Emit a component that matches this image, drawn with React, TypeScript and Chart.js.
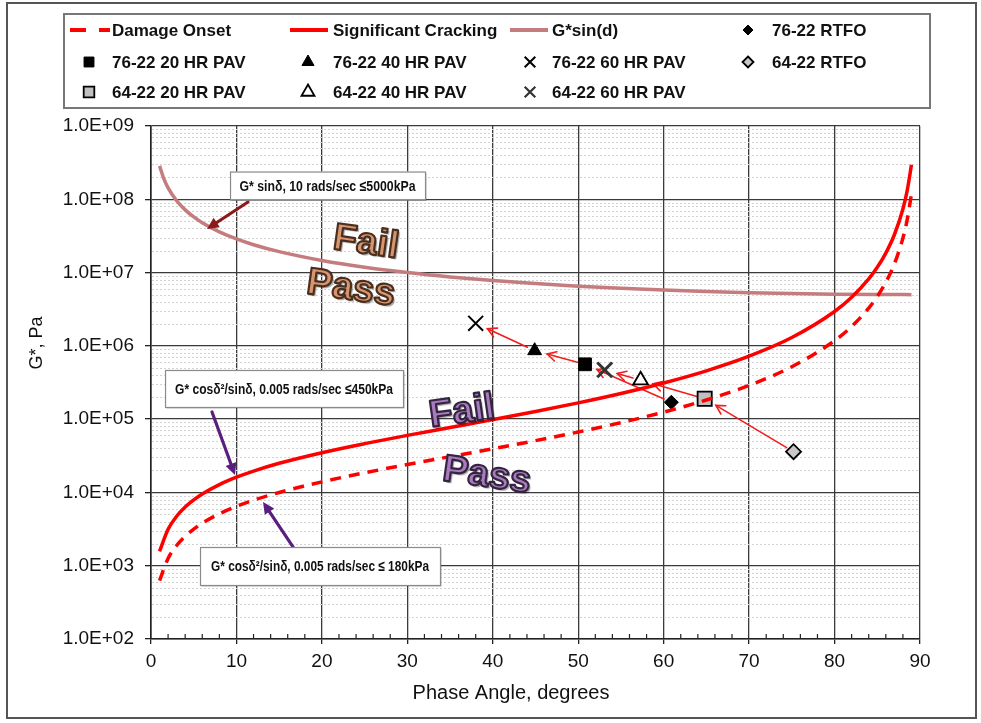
import React, { useEffect, useRef } from "react";
import { Chart, registerables } from "chart.js";

Chart.register(...registerables);

// ---------- data ----------
const curveAngles = [1, 2, 3, 4, 5, 6, 8, 10, 12, 15, 20, 25, 30, 35, 40, 45, 50, 55, 60, 65, 70, 75, 80, 82, 84, 85, 86, 87, 88, 88.5, 89];
const damageOnset = [628, 1258, 1889, 2523, 3162, 3805, 5109, 6446, 7823, 9986, 13944, 18522, 24000, 30773, 39433, 50912, 66745, 89636, 124708, 182676, 289186, 519104, 1175746, 1840536, 3276720, 4721040, 7380000, 13125600, 29538000, 52500000, 118152000];
const significantCracking = [1571, 3145, 4723, 6309, 7904, 9511, 12773, 16114, 19557, 24966, 34860, 46306, 60000, 76932, 98583, 127279, 166863, 224091, 311769, 456690, 722965, 1297761, 2939364, 4601340, 8191800, 11802600, 18450000, 32814000, 73845000, 131300000, 295380000];

const gSinAngles = [1, 1.5, 2, 3, 4, 5, 6, 8, 10, 12, 15, 20, 25, 30, 35, 40, 45, 50, 55, 60, 65, 70, 75, 80, 85, 89];
const gStarSin = [2.86e8, 1.91e8, 1.43e8, 9.55e7, 7.17e7, 5.74e7, 4.78e7, 3.59e7, 2.88e7, 2.4e7, 1.93e7, 1.46e7, 1.18e7, 1.0e7, 8.72e6, 7.78e6, 7.07e6, 6.53e6, 6.1e6, 5.77e6, 5.52e6, 5.32e6, 5.18e6, 5.08e6, 5.02e6, 5.0e6];

const sampleNames = ["76-22 RTFO", "76-22 20 HR PAV", "76-22 40 HR PAV", "76-22 60 HR PAV", "64-22 RTFO", "64-22 20 HR PAV", "64-22 40 HR PAV", "64-22 60 HR PAV"];
const sampleAngles = [60.9, 50.8, 44.9, 38.0, 75.2, 64.8, 57.3, 53.1];
const sampleGStar = [1.7e5, 5.6e5, 8.6e5, 2.03e6, 3.6e4, 1.9e5, 3.4e5, 4.7e5];

// aging paths (from index -> to index)
const agingFrom = [0, 1, 2, 4, 5, 6];
const agingTo = [1, 2, 3, 5, 6, 7];

const xTickMin = 0;
const xTickMax = 90;
const xTickStep = 10;
const xMinorStep = 2;
const yDecades = [2, 3, 4, 5, 6, 7, 8, 9];

const calloutTexts = [
  "G* sinδ, 10 rads/sec ≤5000kPa",
  "G* cosδ²/sinδ, 0.005 rads/sec ≤450kPa",
  "G* cosδ²/sinδ, 0.005 rads/sec ≤ 180kPa",
];
const zoneWords = ["Fail", "Pass", "Fail", "Pass"];

// ---------- styling / placement ----------
const FONT = "'Liberation Sans', Arial, sans-serif";

const callouts = [
  { at: [20.66, 1.54e8], w: 195, h: 28, tw: 176, from: [11.35, 10 ** 7.963], to: [6.55, 10 ** 7.595], color: "#8B1A1A" },
  { at: [15.57, 2.62e5], w: 238, h: 37, tw: 218, from: [7.14, 10 ** 5.098], to: [9.83, 10 ** 4.238], color: "#5A1F7E" },
  { at: [19.78, 991], w: 240, h: 38, tw: 218, from: [16.62, 10 ** 3.256], to: [13.11, 10 ** 3.87], color: "#5A1F7E" },
];

const zonePlace = [
  { at: [25.16, 10 ** 7.404], rot: 8, fill: "#D9956F", stroke: "#4A2E1E" },
  { at: [23.4, 10 ** 6.776], rot: 8, fill: "#D9956F", stroke: "#4A2E1E" },
  { at: [36.4, 10 ** 5.098], rot: -8, fill: "#A77BBE", stroke: "#35243F" },
  { at: [39.3, 10 ** 4.224], rot: 8, fill: "#A77BBE", stroke: "#35243F" },
];

type MarkerStyle = { shape: string; r: number; lr: number; fill: string; stroke: string; lw: number };
const markerStyles: MarkerStyle[] = [
  { shape: "rectRot", r: 7, lr: 5, fill: "#000", stroke: "#000", lw: 1 },
  { shape: "rect", r: 9, lr: 7, fill: "#000", stroke: "#000", lw: 1 },
  { shape: "triangle", r: 8, lr: 7, fill: "#000", stroke: "#000", lw: 1 },
  { shape: "crossRot", r: 10.5, lr: 7.5, fill: "#000", stroke: "#000", lw: 2 },
  { shape: "rectRot", r: 7.5, lr: 5.5, fill: "#C8C8C8", stroke: "#000", lw: 1.8 },
  { shape: "rect", r: 10, lr: 7.5, fill: "#C0C0C0", stroke: "#000", lw: 1.8 },
  { shape: "triangle", r: 8.5, lr: 7.5, fill: "#FFFFFF", stroke: "#000", lw: 1.8 },
  { shape: "crossRot", r: 10.5, lr: 7.5, fill: "#333", stroke: "#333", lw: 3 },
];

function drawMarker(ctx: CanvasRenderingContext2D, m: MarkerStyle, x: number, y: number, r: number) {
  ctx.save();
  ctx.lineWidth = m.lw;
  ctx.strokeStyle = m.stroke;
  ctx.fillStyle = m.fill;
  ctx.beginPath();
  if (m.shape === "rect") {
    const s = r * Math.SQRT1_2;
    ctx.rect(x - s, y - s, 2 * s, 2 * s);
    ctx.fill();
    ctx.stroke();
  } else if (m.shape === "rectRot") {
    ctx.moveTo(x, y - r);
    ctx.lineTo(x + r, y);
    ctx.lineTo(x, y + r);
    ctx.lineTo(x - r, y);
    ctx.closePath();
    ctx.fill();
    ctx.stroke();
  } else if (m.shape === "triangle") {
    for (let i = 0; i < 3; i++) {
      const a = (i * 2 * Math.PI) / 3;
      const px = x + Math.sin(a) * r;
      const py = y - Math.cos(a) * r;
      if (i === 0) ctx.moveTo(px, py);
      else ctx.lineTo(px, py);
    }
    ctx.closePath();
    ctx.fill();
    ctx.stroke();
  } else if (m.shape === "crossRot") {
    const s = r * Math.SQRT1_2;
    ctx.moveTo(x - s, y - s);
    ctx.lineTo(x + s, y + s);
    ctx.moveTo(x + s, y - s);
    ctx.lineTo(x - s, y + s);
    ctx.stroke();
  }
  ctx.restore();
}

function arrowLine(ctx: CanvasRenderingContext2D, x1: number, y1: number, x2: number, y2: number, color: string, lw: number, head: number, filled: boolean) {
  const a = Math.atan2(y2 - y1, x2 - x1);
  ctx.save();
  ctx.strokeStyle = color;
  ctx.fillStyle = color;
  ctx.lineWidth = lw;
  ctx.lineCap = "round";
  ctx.beginPath();
  const ex = filled ? x2 - Math.cos(a) * head * 0.7 : x2;
  const ey = filled ? y2 - Math.sin(a) * head * 0.7 : y2;
  ctx.moveTo(x1, y1);
  ctx.lineTo(ex, ey);
  ctx.stroke();
  const spread = filled ? 0.45 : 0.5;
  const hx1 = x2 - Math.cos(a - spread) * head;
  const hy1 = y2 - Math.sin(a - spread) * head;
  const hx2 = x2 - Math.cos(a + spread) * head;
  const hy2 = y2 - Math.sin(a + spread) * head;
  ctx.beginPath();
  if (filled) {
    ctx.moveTo(x2, y2);
    ctx.lineTo(hx1, hy1);
    ctx.lineTo(hx2, hy2);
    ctx.closePath();
    ctx.fill();
  } else {
    ctx.moveTo(hx1, hy1);
    ctx.lineTo(x2, y2);
    ctx.lineTo(hx2, hy2);
    ctx.stroke();
  }
  ctx.restore();
}

const legendCols = { text: [112, 333, 552, 772], marker: [89, 308, 530, 748], line: [[70, 110], [290, 328], [510, 548]] };
const legendRows = [30, 62, 92];

const decorPlugin = {
  id: "decor",
  beforeDraw(chart: any) {
    const ctx = chart.ctx as CanvasRenderingContext2D;
    ctx.save();
    ctx.fillStyle = "#fff";
    ctx.fillRect(0, 0, chart.width, chart.height);
    ctx.restore();
  },
  beforeDatasetsDraw(chart: any) {
    const ctx = chart.ctx as CanvasRenderingContext2D;
    const xs = chart.scales.x;
    const ys = chart.scales.y;
    const area = chart.chartArea;
    ctx.save();
    // minor horizontal dotted lines
    ctx.strokeStyle = "#D2D2D2";
    ctx.lineWidth = 1;
    ctx.setLineDash([2, 2]);
    for (let e = 2; e < 9; e++) {
      for (let k = 2; k <= 9; k++) {
        const y = Math.round(ys.getPixelForValue(k * 10 ** e)) + 0.5;
        ctx.beginPath();
        ctx.moveTo(area.left + 1, y);
        ctx.lineTo(area.right - 1, y);
        ctx.stroke();
      }
    }
    ctx.setLineDash([]);
    // minor x ticks
    ctx.strokeStyle = "#222";
    ctx.lineWidth = 1.2;
    for (let v = xTickMin; v <= xTickMax; v += xMinorStep) {
      if (v % xTickStep === 0) continue;
      const x = xs.getPixelForValue(v);
      ctx.beginPath();
      ctx.moveTo(x, area.bottom);
      ctx.lineTo(x, area.bottom - 5);
      ctx.stroke();
    }
    ctx.restore();
    // aging arrows
    for (let i = 0; i < agingFrom.length; i++) {
      const a = agingFrom[i];
      const b = agingTo[i];
      const x1 = xs.getPixelForValue(sampleAngles[a]);
      const y1 = ys.getPixelForValue(sampleGStar[a]);
      const x2 = xs.getPixelForValue(sampleAngles[b]);
      const y2 = ys.getPixelForValue(sampleGStar[b]);
      const d = Math.hypot(x2 - x1, y2 - y1);
      const ux = (x2 - x1) / d;
      const uy = (y2 - y1) / d;
      arrowLine(ctx, x1 + ux * 8, y1 + uy * 8, x2 - ux * 13, y2 - uy * 13, "#F01E1E", 1.6, 10, false);
    }
  },
  afterDatasetsDraw(chart: any) {
    const ctx = chart.ctx as CanvasRenderingContext2D;
    const xs = chart.scales.x;
    const ys = chart.scales.y;
    // zone words
    zonePlace.forEach((z, i) => {
      const x = xs.getPixelForValue(z.at[0]);
      const y = ys.getPixelForValue(z.at[1]);
      ctx.save();
      ctx.translate(x, y);
      ctx.rotate((z.rot * Math.PI) / 180);
      ctx.font = `bold 38px ${FONT}`;
      ctx.textAlign = "center";
      ctx.textBaseline = "middle";
      ctx.shadowColor = "rgba(0,0,0,0.35)";
      ctx.shadowOffsetX = 2;
      ctx.shadowOffsetY = 2;
      ctx.shadowBlur = 1;
      ctx.fillStyle = z.fill;
      ctx.fillText(zoneWords[i], 0, 0);
      ctx.shadowColor = "transparent";
      ctx.lineWidth = 2.2;
      ctx.lineJoin = "round";
      ctx.strokeStyle = z.stroke;
      ctx.strokeText(zoneWords[i], 0, 0);
      ctx.restore();
    });
    // callouts
    callouts.forEach((c, i) => {
      const cx = xs.getPixelForValue(c.at[0]);
      const cy = ys.getPixelForValue(c.at[1]);
      arrowLine(ctx, xs.getPixelForValue(c.from[0]), ys.getPixelForValue(c.from[1]), xs.getPixelForValue(c.to[0]), ys.getPixelForValue(c.to[1]), c.color, 3.2, 13, true);
      ctx.save();
      ctx.shadowColor = "rgba(0,0,0,0.25)";
      ctx.shadowOffsetX = 1.5;
      ctx.shadowOffsetY = 1.5;
      ctx.fillStyle = "#fff";
      ctx.fillRect(cx - c.w / 2, cy - c.h / 2, c.w, c.h);
      ctx.shadowColor = "transparent";
      ctx.strokeStyle = "#8A8A8A";
      ctx.lineWidth = 1.2;
      ctx.strokeRect(cx - c.w / 2 + 0.5, cy - c.h / 2 + 0.5, c.w, c.h);
      ctx.font = `bold 15px ${FONT}`;
      ctx.textAlign = "center";
      ctx.textBaseline = "middle";
      ctx.fillStyle = "#111";
      const mw = ctx.measureText(calloutTexts[i]).width;
      ctx.translate(cx, cy + 1);
      ctx.scale(c.tw / mw, 1);
      ctx.fillText(calloutTexts[i], 0, 0);
      ctx.restore();
    });
  },
  afterDraw(chart: any) {
    const ctx = chart.ctx as CanvasRenderingContext2D;
    const ds = chart.data.datasets;
    ctx.save();
    // legend box
    ctx.strokeStyle = "#777";
    ctx.lineWidth = 2;
    ctx.strokeRect(64, 14, 866, 94);
    ctx.font = `bold 17px ${FONT}`;
    ctx.textBaseline = "middle";
    ctx.textAlign = "left";
    ctx.fillStyle = "#111";
    ds.forEach((d: any, i: number) => {
      const row = Math.floor(i / 4);
      const col = i % 4;
      const y = legendRows[row];
      if (i < 3) {
        const [a, b] = legendCols.line[col];
        ctx.save();
        ctx.strokeStyle = d.borderColor;
        ctx.lineWidth = 4;
        if (d.borderDash && d.borderDash.length) ctx.setLineDash([16, 13]);
        ctx.beginPath();
        ctx.moveTo(a, y);
        ctx.lineTo(b, y);
        ctx.stroke();
        ctx.restore();
      } else {
        const m = markerStyles[i - 3];
        drawMarker(ctx, { ...m, lw: Math.min(m.lw, 2.2) }, legendCols.marker[col], y, m.lr);
      }
      ctx.fillStyle = "#111";
      ctx.fillText(d.label, legendCols.text[col], y + 1);
    });
    // axis titles
    ctx.font = `20px ${FONT}`;
    ctx.textAlign = "center";
    ctx.fillStyle = "#111";
    ctx.fillText("Phase Angle, degrees", 511, 693);
    ctx.save();
    ctx.translate(37, 343);
    ctx.rotate(-Math.PI / 2);
    ctx.font = `18px ${FONT}`;
    ctx.fillText("G*, Pa", 0, 0);
    ctx.restore();
    // outer frame
    ctx.strokeStyle = "#555";
    ctx.lineWidth = 2;
    ctx.strokeRect(7, 3, 969, 715);
    ctx.restore();
  },
};

function fmtExp(v: number) {
  const e = Math.round(Math.log10(v));
  return "1.0E+" + String(e).padStart(2, "0");
}

export default function App() {
  const ref = useRef<HTMLCanvasElement>(null);
  useEffect(() => {
    if (!ref.current) return;
    const lineSets = [
      { label: "Damage Onset", xs: curveAngles, ys: damageOnset, color: "#FF0000", dash: [11, 8], width: 3.5 },
      { label: "Significant Cracking", xs: curveAngles, ys: significantCracking, color: "#FF0000", dash: [], width: 3.5 },
      { label: "G*sin(d)", xs: gSinAngles, ys: gStarSin, color: "#C47C7E", dash: [], width: 3.5 },
    ];
    const datasets: any[] = lineSets.map((s) => ({
      label: s.label,
      data: s.xs.map((x, i) => ({ x, y: s.ys[i] })),
      showLine: true,
      borderColor: s.color,
      backgroundColor: s.color,
      borderWidth: s.width,
      borderDash: s.dash,
      pointRadius: 0,
      cubicInterpolationMode: "monotone",
      fill: false,
    }));
    sampleNames.forEach((name, i) => {
      const m = markerStyles[i];
      datasets.push({
        label: name,
        data: [{ x: sampleAngles[i], y: sampleGStar[i] }],
        showLine: false,
        pointStyle: m.shape,
        pointRadius: m.r,
        pointBackgroundColor: m.fill,
        pointBorderColor: m.stroke,
        pointBorderWidth: m.lw,
        backgroundColor: m.fill,
        borderColor: m.stroke,
      });
    });
    const chart = new Chart(ref.current, {
      type: "scatter",
      data: { datasets },
      options: {
        animation: false,
        responsive: false,
        devicePixelRatio: 1,
        layout: { padding: { top: 126, right: 61, bottom: 0, left: 0 } },
        plugins: { legend: { display: false }, tooltip: { enabled: false } },
        scales: {
          x: {
            type: "linear",
            min: xTickMin,
            max: xTickMax,
            afterFit: (s: any) => {
              s.height = 84;
            },
            ticks: { stepSize: xTickStep, color: "#111", font: { family: FONT, size: 19 }, padding: 6 },
            grid: { color: "#3A3A3A", lineWidth: 1.3, tickLength: 5, tickColor: "#222" },
            border: { color: "#222", width: 1.6 },
          },
          y: {
            type: "logarithmic",
            min: 100,
            max: 1e9,
            afterFit: (s: any) => {
              s.width = 151;
            },
            afterBuildTicks: (s: any) => {
              s.ticks = yDecades.map((e) => ({ value: 10 ** e }));
            },
            ticks: {
              color: "#111",
              font: { family: FONT, size: 19 },
              padding: 11,
              callback: (v: any) => fmtExp(Number(v)),
            },
            grid: { color: "#3A3A3A", lineWidth: 1.3, tickLength: 6, tickColor: "#222" },
            border: { color: "#222", width: 1.6 },
          },
        },
      },
      plugins: [decorPlugin],
    } as any);
    return () => chart.destroy();
  }, []);
  return (
    <div style={{ position: "absolute", left: 0, top: 0, width: 981, height: 723, background: "#fff" }}>
      <canvas ref={ref} width={981} height={723} style={{ display: "block", width: 981, height: 723 }} />
    </div>
  );
}
